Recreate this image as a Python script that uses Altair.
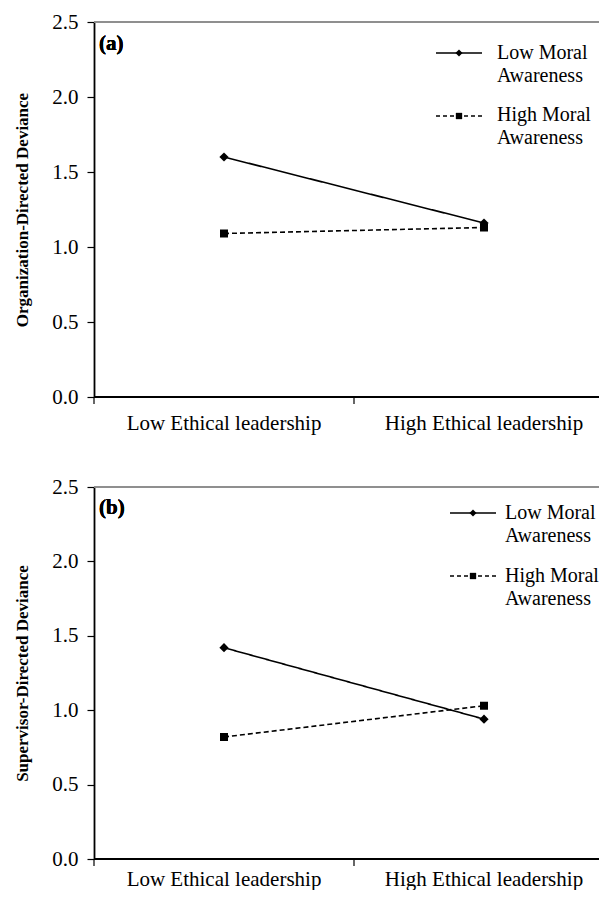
import altair as alt
import pandas as pd

categories = ["Low Ethical leadership", "High Ethical leadership"]
series = ["Low Moral Awareness", "High Moral Awareness"]
legend_labels = ["Low Moral\nAwareness", "High Moral\nAwareness"]
y_ticks = [0.0, 0.5, 1.0, 1.5, 2.0, 2.5]

# Panel (a): Organization-Directed Deviance
a_low_moral = [1.60, 1.16]
a_high_moral = [1.09, 1.13]
# Panel (b): Supervisor-Directed Deviance
b_low_moral = [1.42, 0.94]
b_high_moral = [0.82, 1.03]

SERIF = "Times New Roman, Liberation Serif, DejaVu Serif, serif"
W = 505
BAND_RANGE = 520


def make_df(low_vals, high_vals):
    rows = []
    for s, vals in zip(series, [low_vals, high_vals]):
        for c, v in zip(categories, vals):
            rows.append({"leadership": c, "group": s, "value": v})
    return pd.DataFrame(rows)


def panel(df, ytitle, tag, leg, H, label_off):
    xscale = alt.Scale(type="band", domain=categories, range=[0, BAND_RANGE],
                       paddingInner=0, paddingOuter=0)
    x = alt.X("leadership:N", sort=categories, scale=xscale, axis=None)
    x_edge = alt.X("leadership:N", sort=categories, scale=xscale, axis=None, bandPosition=0)
    y = alt.Y(
        "value:Q",
        scale=alt.Scale(domain=[0, 2.5], nice=False, zero=True),
        axis=alt.Axis(title=ytitle, values=y_ticks, format=".1f", grid=False,
                      labelFont=SERIF, labelFontSize=21, labelColor="black",
                      labelPadding=9, tickSize=7, tickColor="black", tickWidth=1.2,
                      domainColor="black", domainWidth=1.8,
                      titleFont=SERIF, titleFontSize=17, titleFontWeight="bold",
                      titleColor="black", titlePadding=20),
    )
    dash = alt.StrokeDash("group:N", scale=alt.Scale(domain=series, range=[[1, 0], [5, 3]]), legend=None)
    shape = alt.Shape("group:N", scale=alt.Scale(domain=series, range=["diamond", "square"]), legend=None)
    size = alt.Size("group:N", scale=alt.Scale(domain=series, range=[85, 64]), legend=None)

    base = alt.Chart(df)
    lines = base.mark_line(color="black", strokeWidth=1.6).encode(
        x=x, y=y, strokeDash=dash, detail="group:N")
    points = base.mark_point(filled=True, color="black", opacity=1).encode(
        x=x, y=y, shape=shape, size=size)

    cat_df = alt.Chart(pd.DataFrame({"leadership": categories}))
    x_ticks = cat_df.mark_rule(color="black", strokeWidth=1.2).encode(
        x=x_edge, y=alt.value(H), y2=alt.value(H + 7))
    x_labels = cat_df.mark_text(font=SERIF, fontSize=21, baseline="alphabetic",
                                align="center", color="black").encode(
        x=x, y=alt.value(H + label_off), text="leadership:N")

    top_rule = base.mark_rule(color="#888888", strokeWidth=1.2).encode(
        x=alt.value(0), x2=alt.value(W), y=alt.value(0))
    bottom_rule = base.mark_rule(color="black", strokeWidth=1.8).encode(
        x=alt.value(0), x2=alt.value(W), y=alt.value(H))

    tag_text = base.mark_text(font=SERIF, fontSize=21, fontWeight="bold", align="left",
                              baseline="middle", color="black").encode(
        x=alt.value(5), y=alt.value(leg["tag_y"]), text=alt.value(tag))

    layers = [top_rule, bottom_rule, x_ticks, x_labels, lines, points, tag_text]
    leg_df = pd.DataFrame({"group": series, "label": legend_labels})
    dashes = [[1, 0], [4, 3]]
    shapes = ["diamond", "square"]
    sizes = [50, 40]
    for i, s in enumerate(series):
        d = alt.Chart(leg_df[leg_df.group == s])
        ly = leg["line_y"][i]
        layers.append(d.mark_rule(color="black", strokeWidth=1.5, strokeDash=dashes[i]).encode(
            x=alt.value(leg["x0"]), x2=alt.value(leg["x1"]), y=alt.value(ly)))
        layers.append(d.mark_point(filled=True, color="black", opacity=1, shape=shapes[i], size=sizes[i]).encode(
            x=alt.value((leg["x0"] + leg["x1"]) / 2), y=alt.value(ly)))
        layers.append(d.mark_text(font=SERIF, fontSize=20, align="left", baseline="middle",
                                  lineBreak="\n", lineHeight=23, color="black").encode(
            x=alt.value(leg["tx"]), y=alt.value(leg["text_y"][i]), text="label:N"))

    return alt.layer(*layers).properties(width=W, height=H)


leg_a = {"x0": 342, "x1": 388, "tx": 403, "line_y": [31, 94], "text_y": [31, 93], "tag_y": 21.5}
leg_b = {"x0": 356, "x1": 402, "tx": 411, "line_y": [26, 89], "text_y": [26, 89], "tag_y": 20.5}

chart_a = panel(make_df(a_low_moral, a_high_moral), "Organization-Directed Deviance", "(a)", leg_a, 375, 33)
chart_b = panel(make_df(b_low_moral, b_high_moral), "Supervisor-Directed Deviance", "(b)", leg_b, 372, 27)

chart = alt.vconcat(chart_a, chart_b, spacing=42).properties(
    padding={"left": 5, "top": 3, "right": 0, "bottom": 0},
    background="white",
).configure_view(stroke=None)

chart.save("out.html", embed_options={"renderer": "svg", "actions": False})
